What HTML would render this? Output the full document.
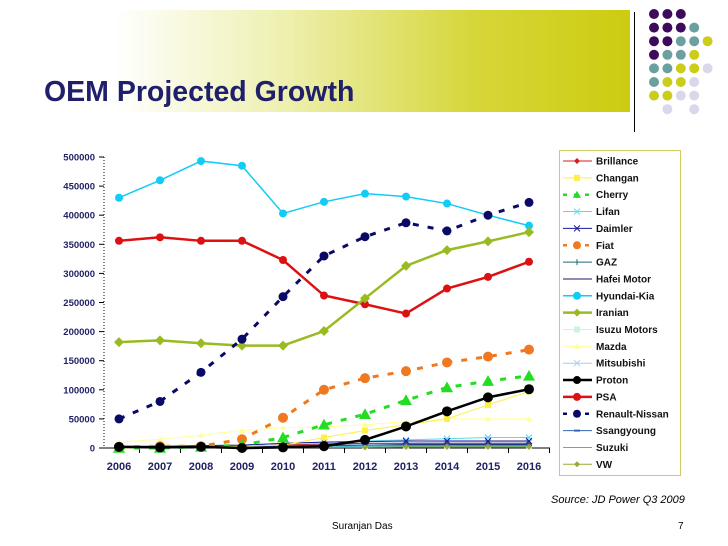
<!DOCTYPE html><html><head><meta charset="utf-8"><style>
body{margin:0;background:#fff;font-family:"Liberation Sans",sans-serif}
#w{position:relative;width:728px;height:546px;overflow:hidden;background:#fff}
</style></head><body><div id="w">
<div style="position:absolute;left:0;top:10px;width:630px;height:102px;background:linear-gradient(90deg,#fff 0%,#fff 18%,#eef0b0 45%,#d6d63a 75%,#cccc10 100%)"></div>
<div style="position:absolute;left:44px;top:76px;font-size:28.5px;font-weight:bold;color:#1f1f6b">OEM Projected Growth</div>
<div style="position:absolute;left:634px;top:12px;width:1px;height:120px;background:#000"></div>
<svg id="dots" style="position:absolute;left:0;top:0" width="728" height="546"></svg>
<svg id="c" style="position:absolute;left:0;top:0" width="728" height="546"></svg>
<div style="position:absolute;left:551px;top:494px;font-size:11px;font-style:italic">Source: JD Power Q3 2009</div>
<div style="position:absolute;left:332px;top:521px;font-size:10px">Suranjan Das</div>
<div style="position:absolute;left:678px;top:521px;font-size:10px">7</div>
</div>
<script>
const NS="http://www.w3.org/2000/svg";
function mk(p,t,a){const e=document.createElementNS(NS,t);for(const k in a)e.setAttribute(k,a[k]);p.appendChild(e);return e;}
const dotRows=["PPP","PPPT","PPTTY","PTTY","TTYYL","TYYL","YYLL",".L.L"];
const dc={P:"#3d0a5c",T:"#6b9fa0",Y:"#cccc1a",L:"#d8d8ea"};
const ds=document.getElementById('dots');
dotRows.forEach((r,i)=>{[...r].forEach((ch,j)=>{if(ch==='.')return;const d=mk(ds,'circle',{cx:654+j*13.4,cy:14+i*13.6,r:5,fill:dc[ch]});

});});

const categories=["2006","2007","2008","2009","2010","2011","2012","2013","2014","2015","2016"];
const yTicks=[0,50000,100000,150000,200000,250000,300000,350000,400000,450000,500000];
const seriesNames=["Brillance","Changan","Cherry","Lifan","Daimler","Fiat","GAZ","Hafei Motor","Hyundai-Kia","Iranian","Isuzu Motors","Mazda","Mitsubishi","Proton","PSA","Renault-Nissan","Ssangyoung","Suzuki","VW"];
const brillance=[2000,2000,3000,3000,5000,7000,8000,8000,8000,8000,8000];
const changan=[0,0,2000,3000,5000,18000,30000,40000,50000,74000,97000];
const cherry=[0,0,2000,5000,18000,40000,58000,82000,104000,115000,124000];
const lifan=[0,2000,4000,5000,8000,10000,12000,14000,16000,18000,18000];
const daimler=[3000,3000,4000,5000,8000,10000,11000,12000,12000,12000,12000];
const fiat=[2000,3000,3000,15000,52000,100000,120000,132000,147000,157000,169000];
const gaz=[1000,1000,2000,2000,3000,4000,5000,5000,5000,5000,5000];
const hafei=[1000,1000,1000,2000,3000,4000,5000,6000,6000,6000,6000];
const hyundai=[430000,460000,493000,485000,403000,423000,437000,432000,420000,400000,382000];
const iranian=[182000,185000,180000,176000,176000,201000,257000,313000,340000,355000,371000];
const isuzu=[0,1000,1000,2000,2000,3000,3000,3000,3000,3000,3000];
const mazda=[10000,15000,22000,30000,35000,36000,40000,45000,50000,50000,50000];
const mitsubishi=[0,1000,2000,3000,5000,7000,8000,9000,10000,10000,10000];
const proton=[2000,1000,2000,0,1000,3000,14000,37000,63000,87000,101000];
const psa=[356000,362000,356000,356000,323000,262000,247000,231000,274000,294000,320000];
const renault=[50000,80000,130000,187000,260000,330000,363000,387000,373000,400000,422000];
const ssang=[1000,1000,2000,3000,4000,5000,5000,5000,5000,5000,5000];
const suzuki=[0,0,1000,1000,2000,2000,3000,3000,3000,3000,3000];
const vw=[1000,1000,1000,1000,1000,1000,1000,2000,2000,2000,2000];
const values=[brillance,changan,cherry,lifan,daimler,fiat,gaz,hafei,hyundai,iranian,isuzu,mazda,mitsubishi,proton,psa,renault,ssang,suzuki,vw];
const styles=[
{c:"#d21e1e",w:1,m:"diamond",s:3},{c:"#ffee44",w:1,m:"square",s:3},{c:"#22dd22",w:3,d:"6,9",m:"tri",s:6},{c:"#55ddee",w:1,m:"x",s:3},
{c:"#1a1a99",w:1,m:"x",s:3},{c:"#f07820",w:3,d:"6,9",m:"circle",s:5},{c:"#226677",w:1,m:"plus",s:3},{c:"#1a1a66",w:1,m:"none",s:0},
{c:"#11ccf5",w:1.5,m:"circle",s:4},{c:"#99bb22",w:2.5,m:"diamond",s:5},{c:"#ccf5dd",w:1,m:"square",s:3},{c:"#ffff99",w:1,m:"tri",s:3},
{c:"#aaccee",w:1,m:"x",s:3},{c:"#000",w:2.5,m:"circle",s:5},{c:"#dd1111",w:2.5,m:"circle",s:4},{c:"#0a0a66",w:3,d:"6,9",m:"circle",s:4.5},
{c:"#3366bb",w:1,m:"dash",s:3},{c:"#33bbdd",w:1,m:"none",s:0},{c:"#99aa33",w:1,m:"diamond",s:3}];
const X0=119,DX=41,Y0=448,YT=157,YMAX=500000;
const xs=i=>X0+i*DX, ys=v=>Y0-(v/YMAX)*(Y0-YT);
const svg=document.getElementById('c');
const ax=mk(svg,'line',{x1:104,y1:157,x2:104,y2:448,stroke:'#000','stroke-dasharray':'1,2'});


const xa=mk(svg,'line',{x1:99,y1:448,x2:550,y2:448,stroke:'#000'});


yTicks.forEach(v=>{const t=mk(svg,'text',{x:95,y:ys(v)+3.5,'text-anchor':'end','font-size':'9.5','font-weight':'bold',fill:'#222266'});t.textContent=v;


mk(svg,'line',{x1:99,x2:104,y1:ys(v),y2:ys(v),stroke:'#000'});});
categories.forEach((c,i)=>{const t=mk(svg,'text',{x:xs(i),y:470,'text-anchor':'middle','font-size':'11','font-weight':'bold',fill:'#222266'});t.textContent=c;


mk(svg,'line',{x1:xs(i)+DX/2,x2:xs(i)+DX/2,y1:448,y2:453,stroke:'#000'});});
function marker(g,m,x,y,s,c){
 if(m==="circle")mk(g,'circle',{cx:x,cy:y,r:s,fill:c});
 else if(m==="square")mk(g,'rect',{x:x-s,y:y-s,width:2*s,height:2*s,fill:c});
 else if(m==="diamond")mk(g,'path',{d:`M${x} ${y-s}L${x+s} ${y}L${x} ${y+s}L${x-s} ${y}Z`,fill:c});
 else if(m==="tri")mk(g,'path',{d:`M${x} ${y-s}L${x+s} ${y+s*0.8}L${x-s} ${y+s*0.8}Z`,fill:c});
 else if(m==="x")mk(g,'path',{d:`M${x-s} ${y-s}L${x+s} ${y+s}M${x+s} ${y-s}L${x-s} ${y+s}`,stroke:c,'stroke-width':1});
 else if(m==="plus")mk(g,'path',{d:`M${x} ${y-s}L${x} ${y+s}`,stroke:c,'stroke-width':1});
 else if(m==="dash")mk(g,'path',{d:`M${x-s} ${y}L${x+s} ${y}`,stroke:c,'stroke-width':2});
}
const order=[10,11,12,0,3,4,6,7,16,17,18,1,8,14,9,5,2,13,15];
order.forEach(k=>{const st=styles[k],vals=values[k];
 const g=mk(svg,'g',{});
 
 
 const a={d:vals.map((v,i)=>(i?'L':'M')+xs(i)+' '+ys(v)).join(''),fill:'none',stroke:st.c,'stroke-width':st.w};
 if(st.d)a['stroke-dasharray']=st.d; mk(g,'path',a);
 vals.forEach((v,i)=>marker(g,st.m,xs(i),ys(v),st.s,st.c));
});
const lg=mk(svg,'g',{});


mk(lg,'rect',{x:559.5,y:150.5,width:121,height:325,fill:'#fff',stroke:'#cccc66'});
seriesNames.forEach((n,i)=>{const st=styles[i],y=161+i*16.85;
 const e=mk(lg,'g',{});
 
 
 const a={x1:563,x2:592,y1:y,y2:y,stroke:st.c,'stroke-width':Math.min(st.w,2.5)};if(st.d)a['stroke-dasharray']='4,7';
 mk(e,'line',a);marker(e,st.m,577,y,Math.min(st.s,4),st.c);
 const t=mk(e,'text',{x:596,y:y+3.5,'font-size':'10','font-weight':'bold',fill:'#111'});t.textContent=n;});
</script></body></html>
